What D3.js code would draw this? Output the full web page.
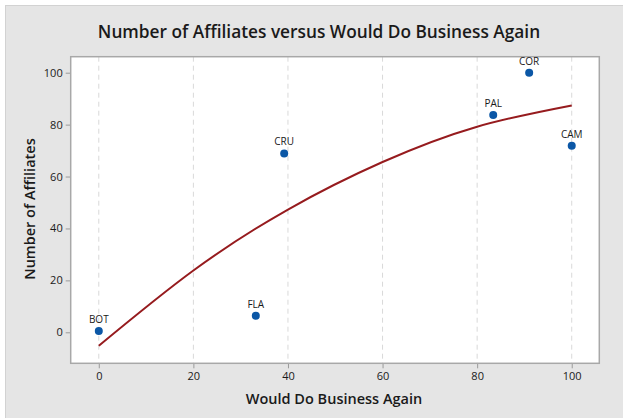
<!DOCTYPE html>
<html>
<head>
<meta charset="utf-8">
<script src="https://cdn.jsdelivr.net/npm/d3@7"></script>
<style>
  html, body { margin: 0; padding: 0; background: #ffffff; }
  svg { display: block; }
  text { font-family: "Open Sans", "Noto Sans", sans-serif; fill: #1a1a1a; }
</style>
</head>
<body>
<svg id="chart" width="623" height="418"></svg>
<script>
// Companies: would-do-business-again score vs. number of affiliates
const names = ["BOT", "FLA", "CRU", "PAL", "COR", "CAM"];
const businessAgain = [0, 33.2, 39.2, 83.4, 91, 100];
const affiliates = [0.5, 6.4, 68.9, 83.7, 100, 71.9];

// Fitted quadratic regression curve, sampled along x
const fitX = [0, 20, 40, 60, 80, 100];
const fitY = [-5.2, 23.8, 47.3, 65.6, 79.2, 87.4];

const xTicks = [0, 20, 40, 60, 80, 100];
const yTicks = [0, 20, 40, 60, 80, 100];

const svg = d3.select("#chart");
const W = 623, H = 418;
const plot = { left: 70.7, right: 599.3, top: 56.7, bottom: 363.3 };

// figure background panel
svg.append("rect").attr("x", 0).attr("y", 0).attr("width", W).attr("height", H).attr("fill", "#ffffff");
svg.append("rect").attr("x", 5.5).attr("y", 5.5).attr("width", W - 5).attr("height", H - 5)
  .attr("fill", "#e5e5e5").attr("stroke", "#d2d2d2");

const x = d3.scaleLinear().domain([-5.94, 105.83]).range([plot.left, plot.right]);
const y = d3.scaleLinear().domain([-11.94, 106.16]).range([plot.bottom, plot.top]);

// plot area
svg.append("rect").attr("x", plot.left).attr("y", plot.top)
  .attr("width", plot.right - plot.left).attr("height", plot.bottom - plot.top)
  .attr("fill", "#ffffff");

// vertical dashed gridlines
svg.append("g").selectAll("line").data(xTicks).join("line")
  .attr("x1", d => x(d)).attr("x2", d => x(d))
  .attr("y1", plot.top).attr("y2", plot.bottom)
  .attr("stroke", "#d9d9d9").attr("stroke-width", 1).attr("stroke-dasharray", "5,4");

// axes
const xAxis = svg.append("g").attr("transform", `translate(0,${plot.bottom})`)
  .call(d3.axisBottom(x).tickValues(xTicks).tickSize(5).tickPadding(4));
const yAxis = svg.append("g").attr("transform", `translate(${plot.left},0)`)
  .call(d3.axisLeft(y).tickValues(yTicks).tickSize(5).tickPadding(3));
[xAxis, yAxis].forEach(g => {
  g.select(".domain").remove();
  g.selectAll(".tick line").attr("stroke", "#9a9a9a");
  g.selectAll(".tick text").attr("font-size", "11px").attr("fill", "#2a2a2a")
    .style("font-family", '"Open Sans", "Noto Sans", sans-serif');
});

// plot frame
svg.append("rect").attr("x", plot.left).attr("y", plot.top)
  .attr("width", plot.right - plot.left).attr("height", plot.bottom - plot.top)
  .attr("fill", "none").attr("stroke", "#a8a8a8").attr("stroke-width", 1.5);

// fitted curve
const line = d3.line().x((d, i) => x(fitX[i])).y(d => y(d)).curve(d3.curveNatural);
svg.append("path").datum(fitY).attr("d", line)
  .attr("fill", "none").attr("stroke", "#961b1e").attr("stroke-width", 2);

// points
const pts = names.map((n, i) => ({ n, bx: businessAgain[i], af: affiliates[i] }));
svg.append("g").selectAll("circle").data(pts).join("circle")
  .attr("cx", d => x(d.bx)).attr("cy", d => y(d.af)).attr("r", 4)
  .attr("fill", "#0b57a6");
svg.append("g").selectAll("text").data(pts).join("text")
  .attr("x", d => x(d.bx)).attr("y", d => y(d.af) - 8)
  .attr("text-anchor", "middle").attr("font-size", "10px").attr("fill", "#1a1a1a")
  .text(d => d.n);

// titles
svg.append("text").attr("x", 319).attr("y", 38).attr("text-anchor", "middle")
  .attr("font-size", "17.3px").attr("font-weight", 600).attr("fill", "#111")
  .text("Number of Affiliates versus Would Do Business Again");
svg.append("text").attr("x", 334).attr("y", 404).attr("text-anchor", "middle")
  .attr("font-size", "14.5px").attr("font-weight", 600).attr("fill", "#111")
  .text("Would Do Business Again");
svg.append("text").attr("transform", "translate(35,209) rotate(-90)").attr("text-anchor", "middle")
  .attr("font-size", "14.5px").attr("font-weight", 600).attr("fill", "#111")
  .text("Number of Affiliates");
</script>
</body>
</html>
